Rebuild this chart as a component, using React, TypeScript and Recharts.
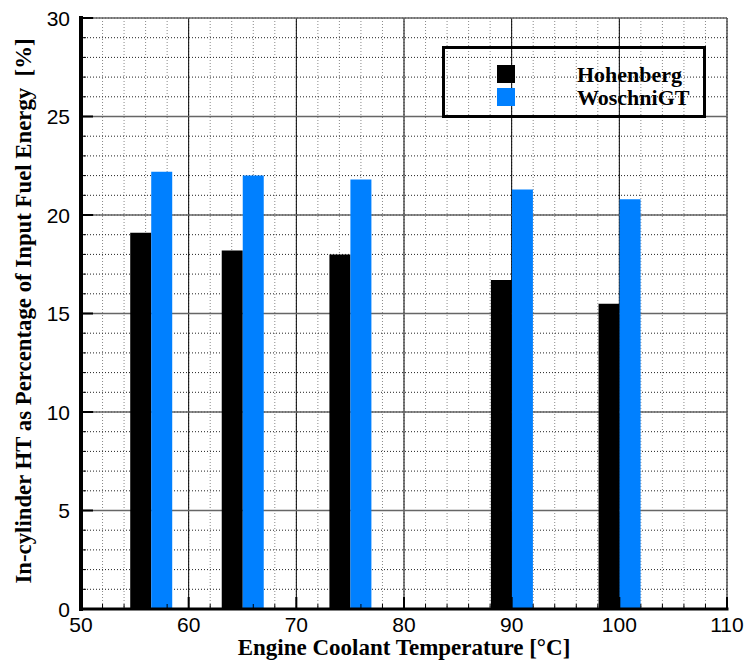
import React from 'react';
import { BarChart, Bar, XAxis, YAxis, CartesianGrid, Legend } from 'recharts';

// coolant temperature of each bar pair (centre of the pair)
const temps = [56.5, 65, 75, 90, 100];
const hohenberg = [19.1, 18.2, 18.0, 16.7, 15.5];
const woschniGT = [22.2, 22.0, 21.8, 21.3, 20.8];

const xMajor = [50, 60, 70, 80, 90, 100, 110];
const xMinor = [50, 52, 54, 56, 58, 60, 62, 64, 66, 68, 70, 72, 74, 76, 78, 80, 82, 84, 86, 88, 90, 92, 94, 96, 98, 100, 102, 104, 106, 108, 110];
const yMajor = [0, 5, 10, 15, 20, 25, 30];
const yMinor = [0, 1, 2, 3, 4, 5, 6, 7, 8, 9, 10, 11, 12, 13, 14, 15, 16, 17, 18, 19, 20, 21, 22, 23, 24, 25, 26, 27, 28, 29, 30];

const series = [
  { key: 'hohenberg', name: 'Hohenberg', color: '#000000' },
  { key: 'woschniGT', name: 'WoschniGT', color: '#0080FF' },
];

const data = temps.map((t, i) => ({ t, hohenberg: hohenberg[i], woschniGT: woschniGT[i] }));

const SANS = '"Liberation Sans", Arial, sans-serif';
const SERIF = '"Liberation Serif", "Times New Roman", serif';

const tickLen = (major: boolean) => (major ? 12 : 5);

function BottomTick(props: any) {
  const { x, y, payload } = props;
  const major = xMajor.includes(payload.value);
  return (
    <g>
      <line x1={x} y1={y} x2={x} y2={y - tickLen(major)} stroke="#000" strokeWidth={major ? 2 : 1} />
      {major && (
        <text x={x} y={y + 23} textAnchor="middle" fontSize={21} fontFamily={SANS} fill="#000">
          {payload.value}
        </text>
      )}
    </g>
  );
}

function TopTick(props: any) {
  const { x, y, payload } = props;
  const major = xMajor.includes(payload.value);
  return <line x1={x} y1={y} x2={x} y2={y + tickLen(major)} stroke="#000" strokeWidth={major ? 2 : 1} />;
}

function LeftTick(props: any) {
  const { x, y, payload } = props;
  const major = yMajor.includes(payload.value);
  return (
    <g>
      <line x1={x} y1={y} x2={x + tickLen(major)} y2={y} stroke="#000" strokeWidth={major ? 2 : 1} />
      {major && (
        <text x={x - 11} y={y + 7.5} textAnchor="end" fontSize={21} fontFamily={SANS} fill="#000">
          {payload.value}
        </text>
      )}
    </g>
  );
}

function RightTick(props: any) {
  const { x, y, payload } = props;
  const major = yMajor.includes(payload.value);
  return <line x1={x} y1={y} x2={x - tickLen(major)} y2={y} stroke="#000" strokeWidth={major ? 2 : 1} />;
}

function YTitle() {
  return (
    <text
      transform="translate(31, 311) rotate(-90)"
      textAnchor="middle"
      fontSize={22.8}
      fontWeight="bold"
      fontFamily={SERIF}
      fill="#000"
      xmlSpace="preserve"
      style={{ whiteSpace: 'pre' }}
    >
      {'In-cylinder HT as Percentage of Input Fuel Energy  [%]'}
    </text>
  );
}

function XTitle() {
  return (
    <text x={404} y={655} textAnchor="middle" fontSize={23} fontWeight="bold" fontFamily={SERIF} fill="#000">
      Engine Coolant Temperature [°C]
    </text>
  );
}

function LegendBox() {
  return (
    <div style={{ width: 264, height: 72, border: '3px solid #000', boxSizing: 'border-box' }}>
      <svg width={258} height={66} style={{ display: 'block' }}>
        {series.map((s, i) => (
          <g key={s.key}>
            <rect x={52} y={16 + i * 23} width={18} height={18} fill={s.color} />
            <text x={132} y={33 + i * 23} fontSize={22} fontWeight="bold" fontFamily={SERIF} fill="#000">
              {s.name}
            </text>
          </g>
        ))}
      </svg>
    </div>
  );
}

const axisLine = { stroke: '#000', strokeWidth: 3, strokeLinecap: 'square' as const };

export default function App() {
  return (
    <div style={{ position: 'absolute', left: 0, top: 0, width: 748, height: 663, background: '#fff' }}>
      <BarChart
        width={748}
        height={663}
        data={data}
        margin={{ top: 18, right: 21, bottom: 0, left: 0 }}
        barGap={0}
      >
        {/* minor grid */}
        <CartesianGrid horizontal={false} verticalValues={xMinor} stroke="#888" strokeDasharray="1 2" />
        <CartesianGrid vertical={false} horizontalValues={yMinor} stroke="#222" strokeDasharray="1 2" />
        {/* major grid */}
        <CartesianGrid horizontal={false} verticalValues={xMajor} stroke="#000" strokeWidth={1} />
        <CartesianGrid vertical={false} horizontalValues={yMajor} stroke="#666" strokeWidth={1.5} />

        {series.map((s) => (
          <Bar key={s.key} dataKey={s.key} name={s.name} fill={s.color} barSize={21} isAnimationActive={false} />
        ))}

        <XAxis
          dataKey="t"
          type="number"
          domain={[50, 110]}
          ticks={xMinor}
          interval={0}
          height={54}
          tickSize={0}
          tickMargin={0}
          tickLine={false}
          axisLine={axisLine}
          tick={BottomTick}
          label={XTitle}
        />
        <XAxis
          xAxisId="top"
          orientation="top"
          dataKey="t"
          type="number"
          domain={[50, 110]}
          ticks={xMinor}
          interval={0}
          height={0}
          tickSize={0}
          tickMargin={0}
          tickLine={false}
          axisLine={axisLine}
          tick={TopTick}
        />
        <YAxis
          type="number"
          domain={[0, 30]}
          ticks={yMinor}
          interval={0}
          width={81}
          tickSize={0}
          tickMargin={0}
          tickLine={false}
          axisLine={{ ...axisLine, strokeWidth: 4 }}
          tick={LeftTick}
          label={YTitle}
        />
        <YAxis
          yAxisId="right"
          orientation="right"
          type="number"
          domain={[0, 30]}
          ticks={yMinor}
          interval={0}
          width={0}
          tickSize={0}
          tickMargin={0}
          tickLine={false}
          axisLine={{ ...axisLine, strokeWidth: 4 }}
          tick={RightTick}
        />
        <Legend
          layout="vertical"
          align="center"
          verticalAlign="middle"
          wrapperStyle={{ left: 442, top: 46, width: 264, height: 72 }}
          content={() => <LegendBox />}
        />
      </BarChart>
    </div>
  );
}
